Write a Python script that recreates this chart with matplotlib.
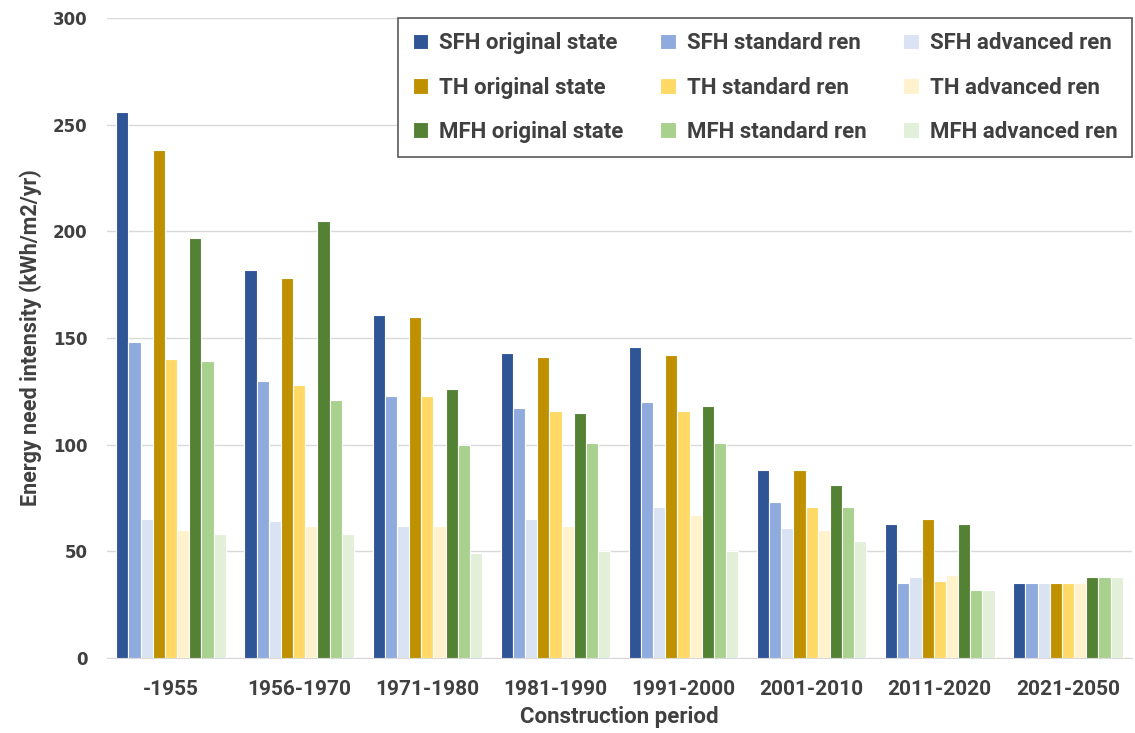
import matplotlib.pyplot as plt
import numpy as np

periods = ["-1955", "1956-1970", "1971-1980", "1981-1990", "1991-2000",
           "2001-2010", "2011-2020", "2021-2050"]

series_names = ["SFH original state", "SFH standard ren", "SFH advanced ren",
                "TH original state", "TH standard ren", "TH advanced ren",
                "MFH original state", "MFH standard ren", "MFH advanced ren"]

sfh_orig = [256, 182, 161, 143, 146, 88, 63, 35]
sfh_std = [148, 130, 123, 117, 120, 73, 35, 35]
sfh_adv = [65, 64, 62, 65, 71, 61, 38, 35]
th_orig = [238, 178, 160, 141, 142, 88, 65, 35]
th_std = [140, 128, 123, 116, 116, 71, 36, 35]
th_adv = [60, 62, 62, 62, 67, 60, 39, 35]
mfh_orig = [197, 205, 126, 115, 118, 81, 63, 38]
mfh_std = [139, 121, 100, 101, 101, 71, 32, 38]
mfh_adv = [58, 58, 49, 50, 50, 55, 32, 38]

values = [sfh_orig, sfh_std, sfh_adv, th_orig, th_std, th_adv,
          mfh_orig, mfh_std, mfh_adv]

colors = ["#2F5597", "#8FAADC", "#DAE3F3",
          "#BF9000", "#FFD966", "#FFF2CC",
          "#548235", "#A9D18E", "#E2F0D9"]

font = ["Roboto", "DejaVu Sans"]
txt = "#404040"

fig = plt.figure(figsize=(11.35, 7.33), dpi=100)
ax = fig.add_axes([107 / 1135, 75 / 733, 1025 / 1135, 640 / 733])

x = np.arange(len(periods))
w = 0.095
for i, (name, vals) in enumerate(zip(series_names, values)):
    ax.bar(x + (i - 4) * w, vals, w, color=colors[i], edgecolor="white",
           linewidth=0.8, label=name, zorder=3)

ax.set_xlim(-0.5, len(periods) - 0.5)
ax.set_ylim(0, 300)
ax.set_yticks(range(0, 301, 50))
ax.grid(axis="y", color="#d9d9d9", linewidth=1, zorder=0)
for s in ["top", "right", "left"]:
    ax.spines[s].set_visible(False)
ax.spines["bottom"].set_color("#d9d9d9")
ax.tick_params(length=0)
ax.tick_params(axis="x", pad=16)
ax.tick_params(axis="y", pad=14)

ax.set_xticks(x)
ax.set_xticklabels(periods, fontfamily=font, fontweight="bold",
                   fontsize=15, color=txt)
for lab in ax.get_yticklabels():
    lab.set_fontfamily("DejaVu Sans")
    lab.set_fontweight("bold")
    lab.set_fontsize(12)
    lab.set_color(txt)

ax.set_xlabel("Construction period", fontfamily=font, fontweight="bold",
              fontsize=16, color=txt, labelpad=5)
ax.set_ylabel("Energy need intensity (kWh/m2/yr)", fontfamily=font,
              fontweight="bold", fontsize=15.5, color=txt, labelpad=8)

# legend rows go across: reorder handles for column-major fill
handles, labels = ax.get_legend_handles_labels()
order = [0, 3, 6, 1, 4, 7, 2, 5, 8]
leg = ax.legend([handles[k] for k in order], [labels[k] for k in order],
                ncol=3, loc="upper right", bbox_to_anchor=(1.0, 1.0),
                borderaxespad=0, fancybox=False, framealpha=1,
                edgecolor="#595959", handlelength=0.7, handleheight=0.7,
                handletextpad=0.5, columnspacing=1.65, labelspacing=1.0,
                borderpad=0.65,
                prop={"family": font, "weight": "bold", "size": 16})
leg.get_frame().set_linewidth(1.2)
for t in leg.get_texts():
    t.set_color(txt)

fig.savefig("out.png", dpi=100)
